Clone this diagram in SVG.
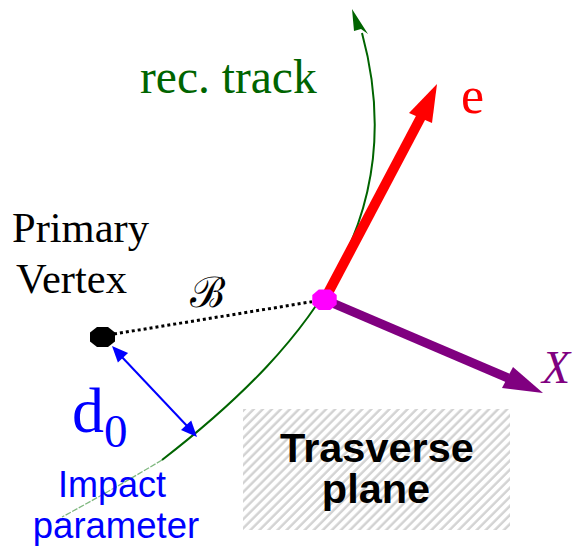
<svg xmlns="http://www.w3.org/2000/svg" width="581" height="548" viewBox="0 0 581 548">
<style>
.serif{font-family:"Liberation Serif","Times New Roman",serif}
.sans{font-family:"Liberation Sans",Arial,sans-serif}
.track{fill:none;stroke:#006400;stroke-width:2}
</style>
<defs>
<pattern id="hatch" width="6.4" height="6.4" patternUnits="userSpaceOnUse" patternTransform="rotate(45)">
<line x1="1.5" y1="0" x2="1.5" y2="6.4" stroke="#d2d2d2" stroke-width="2.4"/>
</pattern>
</defs>
<rect width="581" height="548" fill="#ffffff"/>

<g id="plane">
<rect x="243" y="409" width="267" height="121" fill="url(#hatch)"/>
<text class="sans" x="377" y="462" font-size="41.5" font-weight="bold" text-anchor="middle" fill="#000">Trasverse</text>
<text class="sans" x="376" y="503" font-size="41.5" font-weight="bold" text-anchor="middle" fill="#000">plane</text>
</g>

<g id="connectors">
<path id="track-faded" d="M162,460 Q112,490 62,517" fill="none" stroke="#7fb87f" stroke-width="1.3" stroke-dasharray="6 1.5"/>
<path id="track" class="track" d="M162,460 C320,338 410,210 362,33"/>
<polygon points="352,9 368,34 361,29 354,31" fill="#006400"/>
<line id="dist" x1="114" y1="334" x2="312" y2="301.7" stroke="#000" stroke-width="3" stroke-dasharray="3 3"/>
<g id="d0-arrow" fill="#0000ff">
<line x1="121" y1="356" x2="188" y2="427" stroke="#0000ff" stroke-width="2"/>
<polygon points="112,346 117.9,362.5 128.1,352.9"/>
<polygon points="197,437 181,430.1 191.2,420.5"/>
</g>
<g id="e-arrow" fill="#ff0000">
<line x1="324.5" y1="299.7" x2="421" y2="117" stroke="#ff0000" stroke-width="10"/>
<polygon points="437,84 409,113 432,123"/>
</g>
<g id="x-arrow" fill="#800080">
<line x1="324.5" y1="299.7" x2="508" y2="378" stroke="#800080" stroke-width="9"/>
<polygon points="543,393 502,388 513,367"/>
</g>
</g>

<g id="primary-vertex">
<polygon points="97,327 108,327 115,332.5 115,341.5 108,347 97,347 90,341.5 90,332.5" fill="#000"/>
<text class="serif" x="12" y="242" font-size="42.5" fill="#000">Primary</text>
<text class="serif" x="16" y="293" font-size="42.5" fill="#000">Vertex</text>
</g>

<g id="secondary-vertex">
<polygon points="318.8,289.4 330.2,289.4 336.7,294.9 336.7,304.5 330.2,310 318.8,310 312.3,304.5 312.3,294.9" fill="#ff00ff"/>
</g>

<g id="labels">
<text class="serif" x="140" y="93" font-size="47.5" fill="#006400">rec. track</text>
<text class="serif" x="461" y="113" font-size="52" fill="#ff0000">e</text>
<text class="serif" x="542" y="383" font-size="46" font-style="italic" fill="#800080">X</text>
<text x="190" y="307" font-size="42" font-family="'DejaVu Serif',serif" fill="#000">ℬ</text>
<text class="serif" fill="#0000ff"><tspan x="72" y="432" font-size="64">d</tspan><tspan x="104" y="447" font-size="47">0</tspan></text>
<text class="sans" x="112" y="497" font-size="36" text-anchor="middle" fill="#0000ff">Impact</text>
<text class="sans" x="116" y="538" font-size="36.5" text-anchor="middle" fill="#0000ff">parameter</text>
</g>
</svg>
